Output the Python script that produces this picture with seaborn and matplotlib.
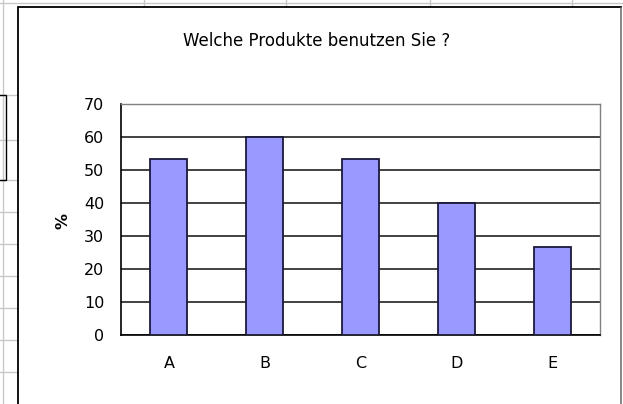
import matplotlib
matplotlib.use("Agg")
import matplotlib.pyplot as plt
import seaborn as sns
import pandas as pd
from matplotlib.lines import Line2D
from matplotlib.patches import Rectangle

categories = ["A", "B", "C", "D", "E"]
values = [53.3, 60.0, 53.3, 40.0, 26.7]
yticks = [0, 10, 20, 30, 40, 50, 60, 70]
title = "Welche Produkte benutzen Sie ?"
ylabel = "%"

sns.set_style("white")
plt.rcParams["font.family"] = ["DejaVu Sans"]
plt.rcParams["text.color"] = "black"
plt.rcParams["xtick.color"] = "black"
plt.rcParams["ytick.color"] = "black"

W, H = 623, 404
fig = plt.figure(figsize=(W / 100, H / 100), dpi=100)
fig.patch.set_facecolor("white")

# spreadsheet background grid
grid_c = "#c8c8c8"
for x in [3, 144, 286, 430, 572]:
    fig.add_artist(Line2D([x / W, x / W], [0, 1], color=grid_c, lw=1, zorder=0))
for y in [95, 140, 180, 212, 244, 276, 308, 340, 372]:
    fig.add_artist(Line2D([0, 18 / W], [1 - y / H, 1 - y / H], color=grid_c, lw=1, zorder=0))
fig.add_artist(Line2D([0, 1], [1 - 3 / H, 1 - 3 / H], color=grid_c, lw=1, zorder=0))
fig.add_artist(Rectangle((-0.01, 1 - 180 / H), 6 / W + 0.01, 85 / H,
                         transform=fig.transFigure, fill=False, ec="black", lw=1, zorder=0.5))

# chart frame
fig.add_artist(Rectangle((18 / W, -0.05), (621 - 18) / W, (1 - 7 / H) + 0.05,
                         transform=fig.transFigure, fc="white", ec="black", lw=1.3, zorder=1))
fig.add_artist(Line2D([621 / W, 621 / W], [0, 1 - 8 / H], color="#a0a0a0", lw=1.2, zorder=2))

left, right, top, bottom = 121, 600, 104, 335
ax = fig.add_axes([left / W, 1 - bottom / H, (right - left) / W, (bottom - top) / H])
ax.set_zorder(3)

df = pd.DataFrame({"cat": categories, "val": values})
sns.barplot(data=df, x="cat", y="val", color="#9999FF", saturation=1,
            edgecolor="#1a1a3a", linewidth=1.3, width=0.385, ax=ax, zorder=3)

ax.set_ylim(0, 70)
ax.set_xlim(-0.5, 4.5)
ax.set_yticks(yticks)
ax.set_yticklabels([str(t) for t in yticks], fontsize=11.5)
ax.yaxis.grid(True, color="#333333", lw=1.3, zorder=0)
ax.set_axisbelow(True)

ax.set_xticks(range(len(categories)))
ax.set_xticklabels(categories, fontsize=11.5)
ax.tick_params(axis="x", which="major", length=0, pad=15)
ax.set_xticks([i - 0.5 for i in range(len(categories) + 1)], minor=True)
ax.tick_params(axis="x", which="minor", length=5, width=1, color="black", direction="out")
ax.tick_params(axis="y", length=5, width=1, color="black", direction="out", pad=7)

for s in ["left", "bottom"]:
    ax.spines[s].set_color("black")
    ax.spines[s].set_linewidth(1.2)
for s in ["top", "right"]:
    ax.spines[s].set_visible(True)
    ax.spines[s].set_color("#808080")
    ax.spines[s].set_linewidth(1)

ax.set_xlabel("")
ax.set_ylabel("")
fig.text(63 / W, 1 - 221 / H, ylabel, rotation=90, ha="center", va="center",
         fontsize=11.5, fontweight="bold")
fig.text(317 / W, 1 - 41 / H, title, ha="center", va="center", fontsize=12)

fig.savefig("out.png", dpi=100)
